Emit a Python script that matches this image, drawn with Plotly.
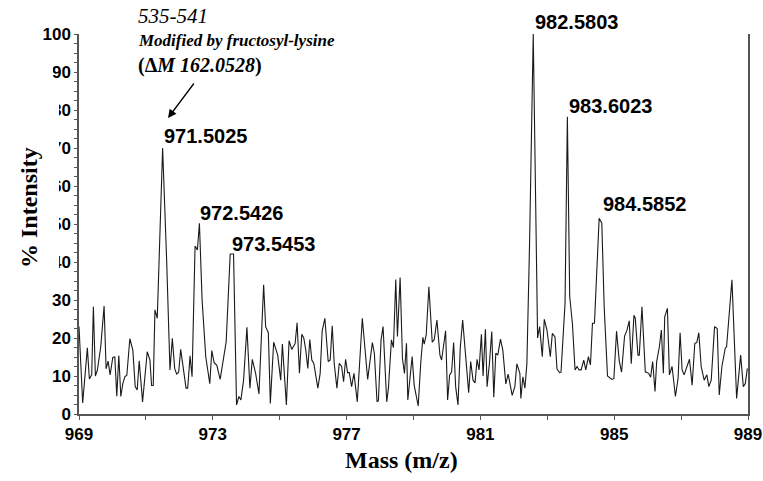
import plotly.graph_objects as go

# ---- data ----
mass = [969.00, 969.11, 969.25, 969.31, 969.38, 969.43, 969.49, 969.55, 969.65, 969.75,
        969.81, 969.87, 969.93, 970.01, 970.07, 970.13, 970.19, 970.25, 970.31, 970.37,
        970.43, 970.52, 970.61, 970.68, 970.74, 970.80, 970.90, 971.04, 971.12, 971.17,
        971.22, 971.27, 971.34, 971.50, 971.62, 971.72, 971.79, 971.86, 971.92, 971.98,
        972.04, 972.12, 972.20, 972.25, 972.32, 972.38, 972.47, 972.54, 972.60, 972.68,
        972.79, 972.91, 972.97, 973.04, 973.12, 973.22, 973.31, 973.40, 973.52, 973.62,
        973.71, 973.78, 973.84, 973.92, 974.02, 974.11, 974.18, 974.28, 974.38, 974.52,
        974.58, 974.66, 974.72, 974.82, 974.94, 975.03, 975.08, 975.20, 975.28, 975.36,
        975.46, 975.52, 975.59, 975.66, 975.72, 975.78, 975.84, 975.90, 975.96, 976.02,
        976.14, 976.21, 976.27, 976.35, 976.45, 976.51, 976.57, 976.63, 976.71, 976.78,
        976.85, 976.91, 976.97, 977.03, 977.08, 977.15, 977.22, 977.32, 977.47, 977.55,
        977.63, 977.77, 977.83, 977.91, 977.95, 978.03, 978.09, 978.20, 978.25, 978.34,
        978.40, 978.47, 978.52, 978.60, 978.67, 978.73, 978.79, 978.83, 978.96, 979.02,
        979.14, 979.22, 979.28, 979.32, 979.38, 979.46, 979.56, 979.62, 979.70, 979.79,
        979.84, 979.96, 980.02, 980.08, 980.14, 980.20, 980.26, 980.33, 980.40, 980.47,
        980.54, 980.65, 980.71, 980.78, 980.84, 980.90, 980.96, 981.03, 981.08, 981.15,
        981.20, 981.27, 981.34, 981.40, 981.46, 981.52, 981.60, 981.67, 981.76, 981.83,
        981.95, 982.03, 982.09, 982.18, 982.21, 982.27, 982.33, 982.39, 982.47, 982.58,
        982.71, 982.77, 982.85, 982.91, 982.99, 983.09, 983.15, 983.23, 983.29, 983.37,
        983.41, 983.53, 983.60, 983.67, 983.75, 983.83, 983.89, 983.95, 984.01, 984.09,
        984.15, 984.23, 984.29, 984.35, 984.41, 984.55, 984.63, 984.70, 984.80, 984.93,
        984.99, 985.07, 985.15, 985.22, 985.31, 985.38, 985.45, 985.51, 985.59, 985.63,
        985.71, 985.75, 985.83, 985.93, 986.03, 986.09, 986.15, 986.22, 986.27, 986.35,
        986.41, 986.47, 986.51, 986.59, 986.65, 986.73, 986.83, 986.91, 986.97, 987.03,
        987.09, 987.17, 987.25, 987.33, 987.41, 987.47, 987.53, 987.60, 987.69, 987.77,
        987.83, 987.90, 988.00, 988.08, 988.14, 988.22, 988.32, 988.36, 988.52, 988.66,
        988.78, 988.86, 988.92, 988.98]

intensity = [23.0, 2.9, 17.4, 9.2, 10.3, 28.2, 10.0, 11.6, 17.7, 28.4,
             11.9, 13.9, 10.3, 14.9, 15.0, 4.7, 15.4, 4.6, 8.0, 9.8,
             10.2, 19.8, 16.8, 7.2, 6.3, 14.0, 3.2, 16.4, 14.2, 7.5,
             7.5, 27.4, 25.2, 70.0, 40.5, 11.6, 19.9, 12.0, 10.5, 11.0,
             17.0, 12.0, 6.8, 6.8, 15.3, 9.8, 44.2, 43.2, 50.2, 30.0,
             15.0, 8.0, 16.7, 13.5, 12.8, 9.1, 13.8, 19.0, 42.1, 42.1,
             2.4, 4.6, 3.7, 8.9, 22.8, 6.8, 14.4, 10.7, 5.3, 34.0,
             23.0, 21.4, 2.8, 18.9, 15.5, 8.9, 18.4, 2.4, 19.3, 17.0,
             18.5, 24.0, 10.7, 21.0, 20.0, 16.8, 12.0, 19.6, 14.2, 13.3,
             6.8, 10.7, 21.9, 25.2, 13.8, 14.2, 23.2, 13.3, 6.8, 13.3,
             12.6, 8.5, 14.4, 10.9, 10.9, 7.2, 10.7, 3.2, 25.2, 16.0,
             9.1, 18.8, 16.0, 3.2, 3.5, 19.5, 23.0, 3.2, 6.8, 19.5,
             17.5, 35.4, 20.4, 35.9, 14.6, 10.7, 18.6, 3.7, 15.1, 7.6,
             2.1, 13.8, 20.2, 18.4, 20.8, 33.5, 18.9, 19.6, 24.7, 15.5,
             14.2, 21.9, 3.7, 10.3, 11.1, 18.8, 7.2, 2.4, 17.7, 24.7,
             16.8, 5.6, 13.8, 8.9, 8.2, 14.4, 11.6, 21.0, 10.0, 22.3,
             7.2, 13.3, 21.7, 4.4, 16.0, 15.5, 19.7, 16.8, 7.9, 10.5,
             4.9, 7.2, 13.2, 10.7, 4.1, 9.8, 6.8, 13.3, 45.0, 100.0,
             20.0, 23.0, 15.1, 24.9, 22.1, 15.1, 21.2, 20.3, 11.8, 10.9,
             11.0, 29.1, 78.2, 30.9, 23.9, 11.6, 12.5, 11.6, 11.6, 14.2,
             11.6, 15.1, 12.9, 23.9, 23.9, 51.5, 50.2, 28.2, 10.0, 9.1,
             9.3, 21.8, 14.0, 11.0, 20.5, 22.0, 24.5, 13.2, 26.0, 25.2,
             15.5, 15.5, 28.2, 11.1, 10.7, 9.7, 13.8, 5.9, 13.8, 17.7,
             22.1, 10.7, 25.6, 27.8, 10.3, 12.5, 4.6, 9.4, 21.4, 11.6,
             10.3, 12.5, 14.4, 7.6, 18.6, 18.8, 21.4, 12.5, 8.9, 10.3,
             7.2, 8.9, 23.0, 22.5, 5.0, 12.5, 17.3, 17.7, 35.3, 4.1,
             15.5, 7.2, 8.0, 12.0]

peak_labels = ["971.5025", "972.5426", "973.5453", "982.5803", "983.6023", "984.5852"]

x_ticks = [969, 973, 977, 981, 985, 989]
y_ticks = [0, 10, 20, 30, 40, 50, 60, 70, 80, 90, 100]

W, H = 763, 481
L, R, T, B = 79, 15, 34, 67
pw, ph = W - L - R, H - T - B


def px_x(p):  # pixel -> paper x
    return (p - L) / pw


def px_y(p):  # pixel -> paper y
    return (H - B - p) / ph


fig = go.Figure()
fig.add_trace(go.Scatter(x=mass, y=intensity, mode="lines",
                         line=dict(color="#1a1a1a", width=1.1),
                         hoverinfo="skip", showlegend=False, cliponaxis=False))

tickfont = dict(family="Liberation Sans, Arial, sans-serif", size=17, color="black", weight="bold")

fig.update_layout(
    width=W, height=H,
    margin=dict(l=L, r=R, t=T, b=B, autoexpand=False),
    paper_bgcolor="white", plot_bgcolor="white",
    showlegend=False,
    xaxis=dict(range=[969, 989], tickvals=x_ticks, ticktext=[str(v) for v in x_ticks],
               automargin=False,
               showgrid=False, zeroline=False, showline=True, linecolor="#555", linewidth=1.5,
               ticks="outside", ticklen=4, tickcolor="#555", tickfont=tickfont,
               minor=dict(dtick=2, tick0=969, ticks="outside", ticklen=4, tickcolor="#555")),
    yaxis=dict(range=[0, 100], tickvals=y_ticks, ticktext=[str(v) for v in y_ticks],
               automargin=False,
               showgrid=False, zeroline=False, showline=True, mirror=True,
               linecolor="#555", linewidth=1.5,
               ticks="outside", ticklen=3, tickcolor="#555", tickfont=tickfont,
               minor=dict(dtick=2.5, tick0=0, ticks="outside", ticklen=3, tickcolor="#555")),
)

# white boxes behind the y title that partly hide tick labels (as in the reference)
fig.add_shape(type="rect", xref="paper", yref="paper",
              x0=px_x(0), x1=px_x(53), y0=px_y(92), y1=px_y(62),
              fillcolor="white", line=dict(width=0), layer="above")
fig.add_shape(type="rect", xref="paper", yref="paper",
              x0=px_x(0), x1=px_x(59), y0=px_y(284), y1=px_y(92),
              fillcolor="white", line=dict(width=0), layer="above")

serif = "Liberation Serif, Times New Roman, serif"

# axis titles
fig.add_annotation(xref="paper", yref="paper", x=px_x(29), y=px_y(208),
                   text="<b>% Intensity</b>", textangle=-90, showarrow=False,
                   font=dict(family=serif, size=24, color="black"),
                   xanchor="center", yanchor="middle")
fig.add_annotation(xref="paper", yref="paper", x=px_x(401), y=px_y(460),
                   text="<b>Mass (m/z)</b>", showarrow=False,
                   font=dict(family=serif, size=24, color="black"),
                   xanchor="center", yanchor="middle")

# peak labels
label_pos = [(162, 136), (198, 213), (230, 244), (533, 22), (567, 106), (601, 204)]
for lab, (lx, ly) in zip(peak_labels, label_pos):
    fig.add_annotation(xref="paper", yref="paper", x=px_x(lx), y=px_y(ly),
                       text="<b>" + lab + "</b>", showarrow=False,
                       font=dict(family="Liberation Sans, Arial, sans-serif", size=20, color="black"),
                       xanchor="left", yanchor="middle")

# modification note
fig.add_annotation(xref="paper", yref="paper", x=px_x(136), y=px_y(16),
                   text="<i>535-541</i>", showarrow=False,
                   font=dict(family=serif, size=21, color="black"),
                   xanchor="left", yanchor="middle")
fig.add_annotation(xref="paper", yref="paper", x=px_x(136), y=px_y(41),
                   text="<b><i>Modified by fructosyl-lysine</i></b>", showarrow=False,
                   font=dict(family=serif, size=17, color="black"),
                   xanchor="left", yanchor="middle")
fig.add_annotation(xref="paper", yref="paper", x=px_x(136), y=px_y(65),
                   text="<b>(\u0394<i>M 162.0528</i>)</b>", showarrow=False,
                   font=dict(family=serif, size=20, color="black"),
                   xanchor="left", yanchor="middle")

# arrow pointing at the 971.5025 peak
fig.add_annotation(xref="paper", yref="paper", axref="pixel", ayref="pixel",
                   x=px_x(168), y=px_y(118), ax=27, ay=-36,
                   text="", showarrow=True, arrowhead=2, arrowsize=1.3,
                   arrowwidth=1.3, arrowcolor="black")

fig.write_html("out.html", config={"displayModeBar": False},
               post_script="document.body.style.margin='0px';document.body.style.overflow='hidden';")
